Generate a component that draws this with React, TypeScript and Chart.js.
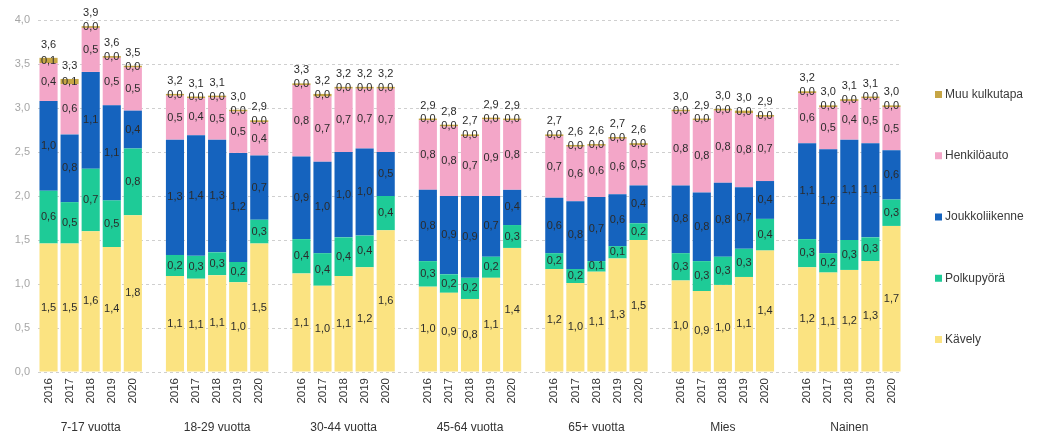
import React, { useEffect, useRef } from 'react';
import { Chart, registerables } from 'chart.js';

Chart.register(...registerables);

const groups = ['7-17 vuotta', '18-29 vuotta', '30-44 vuotta', '45-64 vuotta', '65+ vuotta', 'Mies', 'Nainen'];
const years = ['2016', '2017', '2018', '2019', '2020'];

const kavely = [
  1.46, 1.46, 1.60, 1.42, 1.78,
  1.09, 1.06, 1.10, 1.02, 1.46,
  1.12, 0.98, 1.09, 1.19, 1.61,
  0.97, 0.90, 0.83, 1.07, 1.41,
  1.17, 1.01, 1.14, 1.29, 1.50,
  1.04, 0.92, 0.99, 1.08, 1.38,
  1.19, 1.13, 1.16, 1.26, 1.66,
];
const polkupyora = [
  0.60, 0.47, 0.71, 0.53, 0.76,
  0.24, 0.26, 0.26, 0.23, 0.27,
  0.39, 0.37, 0.44, 0.36, 0.39,
  0.29, 0.21, 0.24, 0.24, 0.26,
  0.18, 0.16, 0.12, 0.14, 0.19,
  0.31, 0.34, 0.32, 0.32, 0.36,
  0.32, 0.22, 0.34, 0.27, 0.30,
];
const joukkoliikenne = [
  1.02, 0.77, 1.10, 1.08, 0.43,
  1.31, 1.37, 1.28, 1.24, 0.73,
  0.94, 1.04, 0.97, 0.99, 0.50,
  0.81, 0.89, 0.93, 0.69, 0.40,
  0.63, 0.77, 0.73, 0.59, 0.43,
  0.77, 0.78, 0.84, 0.70, 0.43,
  1.09, 1.18, 1.14, 1.07, 0.56,
];
const henkiloauto = [
  0.43, 0.57, 0.50, 0.54, 0.49,
  0.50, 0.42, 0.48, 0.47, 0.38,
  0.81, 0.74, 0.72, 0.68, 0.72,
  0.79, 0.79, 0.68, 0.87, 0.79,
  0.70, 0.62, 0.58, 0.63, 0.46,
  0.84, 0.82, 0.82, 0.84, 0.73,
  0.57, 0.48, 0.44, 0.51, 0.49,
];
const muu = [
  0.06, 0.06, 0.02, 0.02, 0.02,
  0.02, 0.02, 0.02, 0.02, 0.02,
  0.02, 0.03, 0.02, 0.02, 0.02,
  0.02, 0.02, 0.02, 0.02, 0.02,
  0.02, 0.02, 0.02, 0.02, 0.02,
  0.02, 0.02, 0.02, 0.03, 0.02,
  0.02, 0.02, 0.02, 0.02, 0.02,
];

const seriesNames = ['Kävely', 'Polkupyörä', 'Joukkoliikenne', 'Henkilöauto', 'Muu kulkutapa'];
const seriesValues = [kavely, polkupyora, joukkoliikenne, henkiloauto, muu];
const seriesColors = ['#FBE381', '#1ECB97', '#1563BE', '#F3A6C8', '#C6A545'];

const yTicksMin = 0;
const yTicksMax = 4;
const yTicksStep = 0.5;

const FONT = '"Liberation Sans", Arial, Helvetica, sans-serif';

const fmt = (v: number) => v.toFixed(1).replace('.', ',');

function expand<T>(values: T[], gap: T): T[] {
  const out: T[] = [];
  groups.forEach((_, gi) => {
    if (gi > 0) out.push(gap);
    years.forEach((_, yi) => out.push(values[gi * years.length + yi]));
  });
  return out;
}

const yearLabels = expand(groups.flatMap(() => years), '');
const groupLabels = expand(
  groups.flatMap((g) => years.map((_, yi) => (yi === Math.floor(years.length / 2) ? g : ''))),
  ''
);

const segLabelPlugin = {
  id: 'segLabels',
  afterDatasetsDraw(chart: any) {
    const ctx = chart.ctx;
    ctx.save();
    ctx.font = `11px ${FONT}`;
    ctx.fillStyle = '#2b2b2b';
    ctx.textAlign = 'center';
    ctx.textBaseline = 'middle';
    chart.data.datasets.forEach((ds: any, di: number) => {
      const meta = chart.getDatasetMeta(di);
      meta.data.forEach((el: any, i: number) => {
        const v = ds.data[i];
        if (v == null) return;
        ctx.fillText(fmt(v), el.x, (el.y + el.base) / 2);
      });
    });
    const last = chart.getDatasetMeta(chart.data.datasets.length - 1);
    last.data.forEach((el: any, i: number) => {
      let total = 0;
      let any = false;
      chart.data.datasets.forEach((ds: any) => {
        const v = ds.data[i];
        if (v != null) {
          total += v;
          any = true;
        }
      });
      if (!any) return;
      ctx.fillText(fmt(total), el.x, el.y - 13);
    });
    ctx.restore();
  },
};

const legendPlugin = {
  id: 'sideLegend',
  afterDraw(chart: any) {
    const ctx = chart.ctx;
    const n = chart.data.datasets.length;
    const step = 61.25;
    const cy = chart.height / 2;
    const x = chart.chartArea.right + 33;
    ctx.save();
    ctx.font = `12px ${FONT}`;
    ctx.textAlign = 'left';
    ctx.textBaseline = 'middle';
    for (let k = 0; k < n; k++) {
      const di = n - 1 - k;
      const ds = chart.data.datasets[di];
      const y = cy + (k - (n - 1) / 2) * step;
      ctx.fillStyle = ds.backgroundColor;
      ctx.fillRect(x, y - 3.5, 7, 7);
      ctx.fillStyle = '#3a3a3a';
      ctx.fillText(ds.label, x + 10, y);
    }
    ctx.restore();
  },
};

export default function App() {
  const ref = useRef<HTMLCanvasElement>(null);
  useEffect(() => {
    document.body.style.margin = '0';
    if (!ref.current) return;
    const chart = new Chart(ref.current, {
      type: 'bar',
      data: {
        labels: yearLabels,
        datasets: seriesNames.map((name, si) => ({
          label: name,
          data: expand<number | null>(seriesValues[si], null),
          backgroundColor: seriesColors[si],
          borderWidth: 0,
          barPercentage: 0.86,
          categoryPercentage: 1,
          xAxisID: 'x',
          yAxisID: 'y',
        })),
      },
      options: {
        animation: false,
        responsive: true,
        maintainAspectRatio: false,
        layout: { padding: { top: 20, right: 141, left: 0, bottom: 0 } },
        plugins: {
          legend: { display: false },
          tooltip: { enabled: false },
        },
        scales: {
          x: {
            type: 'category',
            stacked: true,
            weight: 0,
            grid: { display: false, drawTicks: false },
            border: { display: false },
            ticks: {
              autoSkip: false,
              maxRotation: 90,
              minRotation: 90,
              padding: 6,
              color: '#333333',
              font: { size: 11.5, family: FONT },
            },
            afterFit: (s: any) => {
              s.height = 40;
            },
          },
          x2: {
            type: 'category',
            labels: groupLabels,
            position: 'bottom',
            weight: 1,
            grid: { display: false, drawTicks: false },
            border: { display: false },
            ticks: {
              autoSkip: false,
              maxRotation: 0,
              minRotation: 0,
              padding: 8,
              color: '#333333',
              font: { size: 12, family: FONT },
            },
            afterFit: (s: any) => {
              s.height = 22;
            },
          },
          y: {
            stacked: true,
            min: yTicksMin,
            max: yTicksMax,
            grid: { color: '#cfcfcf', drawTicks: false, lineWidth: 1 },
            border: { display: false, dash: [3, 3] },
            ticks: {
              stepSize: yTicksStep,
              padding: 8,
              color: '#a6a6a6',
              font: { size: 11, family: FONT },
              callback: (v: any) => fmt(Number(v)),
            },
            afterFit: (s: any) => {
              s.width = 38;
            },
          },
        },
      },
      plugins: [segLabelPlugin, legendPlugin],
    } as any);
    return () => chart.destroy();
  }, []);
  return (
    <div style={{ width: '1043px', height: '434px', position: 'relative' }}>
      <canvas ref={ref} />
    </div>
  );
}
